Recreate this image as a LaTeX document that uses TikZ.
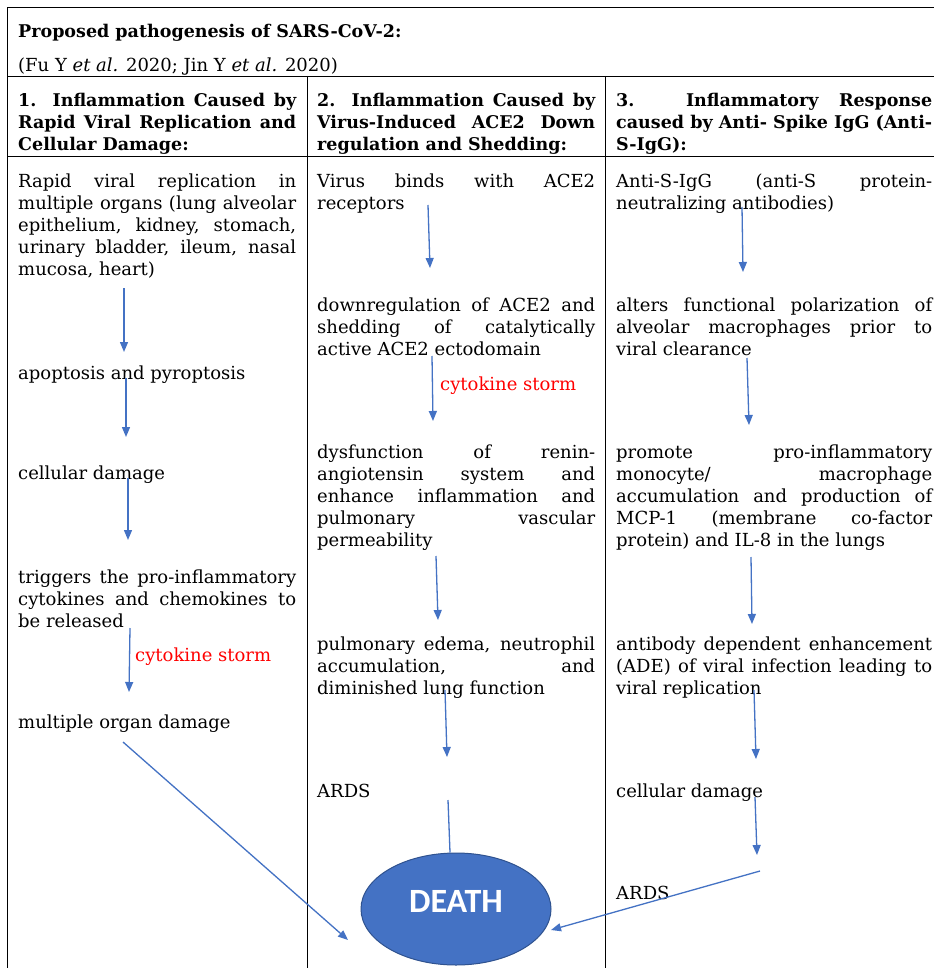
\documentclass[tikz,border=0pt]{standalone}
\usepackage{fontspec}
\setmainfont{DejaVu Serif}
\newfontfamily\deathfont{Carlito}
\usetikzlibrary{arrows.meta,shapes.geometric}
\definecolor{flowblue}{HTML}{4472C4}
\definecolor{deathedge}{HTML}{2F528F}
\newcommand{\jn}[1]{\makebox[278pt][s]{#1}}
\newcommand{\jw}[1]{\makebox[316pt][s]{#1}}

\begin{document}
\begin{tikzpicture}[x=1pt, y=-1pt,
  txt/.style={anchor=north west, inner sep=0pt, align=left, font=\fontsize{18}{22}\selectfont},
  hdr/.style={txt, font=\bfseries\fontsize{17.5}{22}\selectfont},
  storm/.style={txt, text=red},
  flow/.style={draw=flowblue, line width=1.3pt, -{Triangle[length=10pt,width=8pt]}},
  grid/.style={draw=black, line width=0.8pt}]
  \useasboundingbox (0,0) rectangle (934,968);
  \clip (0,0) rectangle (934,968);
  \fill[white] (0,0) rectangle (934,968);

  % table lines
  \draw[grid] (7,968) -- (7,7) -- (934,7);
  \draw[grid] (7,76) -- (934,76);
  \draw[grid] (7,156) -- (934,156);
  \draw[grid] (307,76) -- (307,968);
  \draw[grid] (605,76) -- (605,968);

  % title and headers
  \node (title) [hdr] at (18,24) {Proposed pathogenesis of SARS-CoV-2:};
  \node (cite) [txt] at (18,58) {(Fu Y \textit{et al.} 2020; Jin Y \textit{et al.} 2020)};
  \node (h1) [hdr] at (18,93) {\jn{1. Inflammation Caused by}\\ \jn{Rapid Viral Replication and}\\ Cellular Damage:};
  \node (h2) [hdr] at (317,93) {\jn{2. Inflammation Caused by}\\ \jn{Virus-Induced ACE2 Down}\\ regulation and Shedding:};
  \node (h3) [hdr] at (616,93) {\jw{3. Inflammatory Response}\\ \jw{caused by Anti- Spike IgG (Anti-}\\ S-IgG):};

  % column 1
  \node (rep) [txt] at (18,174) {\jn{Rapid viral replication in}\\ \jn{multiple organs (lung alveolar}\\ \jn{epithelium, kidney, stomach,}\\ \jn{urinary bladder, ileum, nasal}\\ mucosa, heart)};
  \node (apop) [txt] at (18,366) {apoptosis and pyroptosis};
  \node (cell) [txt] at (18,466) {cellular damage};
  \node (trig) [txt] at (18,570) {\jn{triggers the pro-inflammatory}\\ \jn{cytokines and chemokines to}\\ be released};
  \node (storm1) [storm] at (135,648) {cytokine storm};
  \node (organ) [txt] at (18,715) {multiple organ damage};

  % column 2
  \node (bind) [txt] at (317,174) {\jn{Virus binds with ACE2}\\ receptors};
  \node (down) [txt] at (317,298) {\jn{downregulation of ACE2 and}\\ \jn{shedding of catalytically}\\ active ACE2 ectodomain};
  \node (storm2) [storm] at (440,377) {cytokine storm};
  \node (ras) [txt] at (317,445) {\jn{dysfunction of renin-}\\ \jn{angiotensin system and}\\ \jn{enhance inflammation and}\\ \jn{pulmonary vascular}\\ permeability};
  \node (edema) [txt] at (317,637) {\jn{pulmonary edema, neutrophil}\\ \jn{accumulation, and}\\ diminished lung function};
  \node (ards2) [txt] at (317,784) {ARDS};

  % column 3
  \node (igg) [txt] at (616,174) {\jw{Anti-S-IgG (anti-S protein-}\\ neutralizing antibodies)};
  \node (polar) [txt] at (616,298) {\jw{alters functional polarization of}\\ \jw{alveolar macrophages prior to}\\ viral clearance};
  \node (mono) [txt] at (616,445) {\jw{promote pro-inflammatory}\\ \jw{monocyte/ macrophage}\\ \jw{accumulation and production of}\\ \jw{MCP-1 (membrane co-factor}\\ protein) and IL-8 in the lungs};
  \node (ade) [txt] at (616,637) {\jw{antibody dependent enhancement}\\ \jw{(ADE) of viral infection leading to}\\ viral replication};
  \node (cell3) [txt] at (616,784) {cellular damage};
  \node (ards3) [txt] at (616,886) {ARDS};

  % outcome
  \node (death) [ellipse, fill=flowblue, draw=deathedge, line width=1pt,
    minimum width=190, minimum height=112, inner sep=0pt, text=white,
    font=\deathfont\bfseries\fontsize{34}{36}\selectfont] at (456,909) {\raisebox{16pt}{DEATH}};

  % arrow ends
  \coordinate (a1) at (124,288);  \coordinate (a1') at (124,352);
  \coordinate (a2) at (126,378);  \coordinate (a2') at (126,437);
  \coordinate (a3) at (128,478);  \coordinate (a3') at (128,540);
  \coordinate (a4) at (130,628);  \coordinate (a4') at (129,692);
  \coordinate (a5) at (123,742);  \coordinate (a5') at (348,940);
  \coordinate (b1) at (428,205);  \coordinate (b1') at (430,268);
  \coordinate (b2) at (432,356);  \coordinate (b2') at (433,421);
  \coordinate (b3) at (436,556);  \coordinate (b3') at (438,620);
  \coordinate (b4) at (445,690);  \coordinate (b4') at (447,757);
  \coordinate (b5) at (448,800);
  \coordinate (c1) at (742,207);  \coordinate (c1') at (743,272);
  \coordinate (c2) at (747,358);  \coordinate (c2') at (749,425);
  \coordinate (c3) at (751,557);  \coordinate (c3') at (752,624);
  \coordinate (c4) at (754,690);  \coordinate (c4') at (756,759);
  \coordinate (c5) at (755,797);  \coordinate (c5') at (757,855);
  \coordinate (c6) at (760,871);  \coordinate (c6') at (551,930);

  \draw[flow] (a1) to (a1');
  \draw[flow] (a2) to (a2');
  \draw[flow] (a3) to (a3');
  \draw[flow] (a4) to (a4');
  \draw[flow] (a5) to (a5');
  \draw[flow] (b1) to (b1');
  \draw[flow] (b2) to (b2');
  \draw[flow] (b3) to (b3');
  \draw[flow] (b4) to (b4');
  \draw[flow, -] (b5) to ([xshift=-6pt]death.north);
  \draw[flow] (c1) to (c1');
  \draw[flow] (c2) to (c2');
  \draw[flow] (c3) to (c3');
  \draw[flow] (c4) to (c4');
  \draw[flow] (c5) to (c5');
  \draw[flow] (c6) to (c6');
\end{tikzpicture}
\end{document}
